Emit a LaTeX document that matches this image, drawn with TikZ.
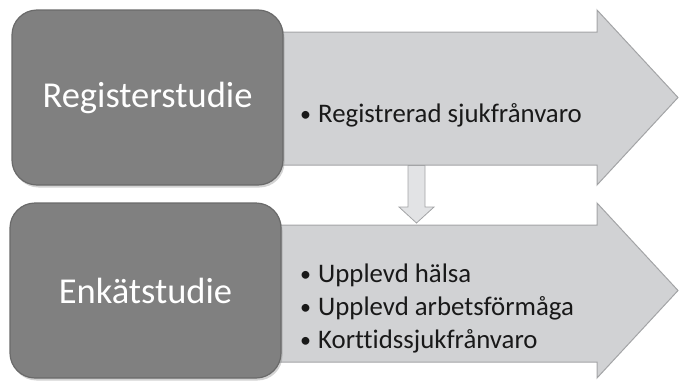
\documentclass[tikz,border=0pt]{standalone}
\usepackage{fontspec}
\setmainfont{Carlito}[Ligatures={NoCommon}]
\usetikzlibrary{shadows}
\definecolor{boxgray}{HTML}{808080}
\definecolor{boxedge}{HTML}{6A6A6A}
\definecolor{arrowfill}{HTML}{D1D2D4}
\definecolor{arrowedge}{HTML}{A3A4A6}
\definecolor{smallfill}{HTML}{E2E3E5}
\newcommand{\itembul}{\makebox[18pt][l]{\raisebox{1pt}{\fontsize{22}{22}\selectfont •}}}
\begin{document}
\begin{tikzpicture}[x=1pt,y=-1pt,
  studybox/.style={draw=boxedge, line width=1.2pt, fill=boxgray, rounded corners=25pt,
    minimum width=271pt, minimum height=175pt, inner sep=0pt, text=white,
    font=\fontsize{36.5}{42}\selectfont,
    drop shadow={opacity=0.35, shadow xshift=1.5pt, shadow yshift=-2.5pt}},
  bigarrow/.style={draw=arrowedge, line width=1pt, fill=arrowfill, line join=miter},
  smallarrow/.style={draw=arrowedge, line width=0.8pt, fill=smallfill},
  item/.style={anchor=base west, inner sep=0pt, text=black!90, font=\fontsize{26.8}{33}\selectfont}
]
\useasboundingbox (0,0) rectangle (679,380);
% big arrows
\draw[bigarrow] (275,32) -- (597,32) -- (597,10) -- (678,97.5) -- (597,185) -- (597,165) -- (275,165) -- cycle;
\draw[bigarrow] (275,225) -- (597,225) -- (597,203) -- (678,290.5) -- (597,378) -- (597,362) -- (275,362) -- cycle;
% small down arrow
\draw[smallarrow] (408,165.5) -- (425,165.5) -- (425,207) -- (434,207) -- (416.5,223) -- (399,207) -- (408,207) -- cycle;
% boxes
\node[studybox] (reg) at (147.5,97.5) {Registerstudie};
\node[studybox] (enk) at (145.5,290.5) {Enkätstudie};
% items
\node[item] (r1) at (300,122) {\itembul Registrerad sjukfrånvaro};
\node[item] (e1) at (300,282) {\itembul Upplevd hälsa};
\node[item] (e2) at (300,315) {\itembul Upplevd arbetsförmåga};
\node[item] (e3) at (300,348) {\itembul Korttidssjukfrånvaro};
\end{tikzpicture}
\end{document}
